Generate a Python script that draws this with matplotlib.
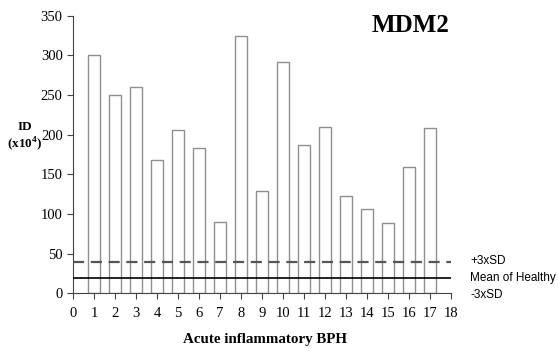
import numpy as np
import matplotlib.pyplot as plt

# data
samples = np.arange(1, 18)
values = [300, 250, 260, 168, 206, 183, 90, 325, 129, 292, 187, 210, 123, 106, 89, 160, 209]
plus_3sd = 40
mean_healthy = 20
minus_3sd = 0

plt.rcParams['font.family'] = ['Liberation Serif', 'DejaVu Serif']
plt.rcParams['mathtext.fontset'] = 'custom'
plt.rcParams['mathtext.rm'] = 'Liberation Serif'
plt.rcParams['mathtext.bf'] = 'Liberation Serif:bold'

fig = plt.figure(figsize=(5.58, 3.51), dpi=100)
ax = fig.add_axes([0.131, 0.164, 0.677, 0.791])

ax.bar(samples, values, width=0.6, facecolor='white', edgecolor='#8f8f8f', linewidth=1.0, zorder=2)
ax.axhline(plus_3sd, color='#555555', linestyle=(0, (5, 3)), linewidth=1.6, zorder=3)
ax.axhline(mean_healthy, color='black', linewidth=1.2, zorder=3)

ax.set_xlim(0, 18)
ax.set_ylim(0, 350)
ax.set_xticks(range(0, 19))
ax.set_yticks(range(0, 351, 50))
ax.tick_params(direction='out', length=4, labelsize=10.5, color='#444444')
ax.tick_params(axis='x', pad=6)
for s in ['top', 'right']:
    ax.spines[s].set_visible(False)
for s in ['left', 'bottom']:
    ax.spines[s].set_color('#444444')

fig.text(0.475, (351 - 340) / 351, 'Acute inflammatory BPH', ha='center', va='center',
         fontsize=10.8, fontweight='bold')
fig.text(0.045, (351 - 137) / 351, 'ID\n(x10$^{\\mathbf{4}}$)', ha='center', va='center',
         fontsize=9.5, fontweight='bold', linespacing=1.2)
fig.text(0.735, (351 - 25) / 351, 'MDM2', ha='center', va='center', fontsize=18, fontweight='bold')

# legend text on the right
sans = ['Liberation Sans', 'DejaVu Sans']
fig.text(0.843, (351 - 261) / 351, '+3xSD', fontsize=8.5, family=sans, va='center')
fig.text(0.843, (351 - 278) / 351, 'Mean of Healthy', fontsize=8.5, family=sans, va='center')
fig.text(0.843, (351 - 295) / 351, '-3xSD', fontsize=8.5, family=sans, va='center')

fig.savefig('out.png', dpi=100)
